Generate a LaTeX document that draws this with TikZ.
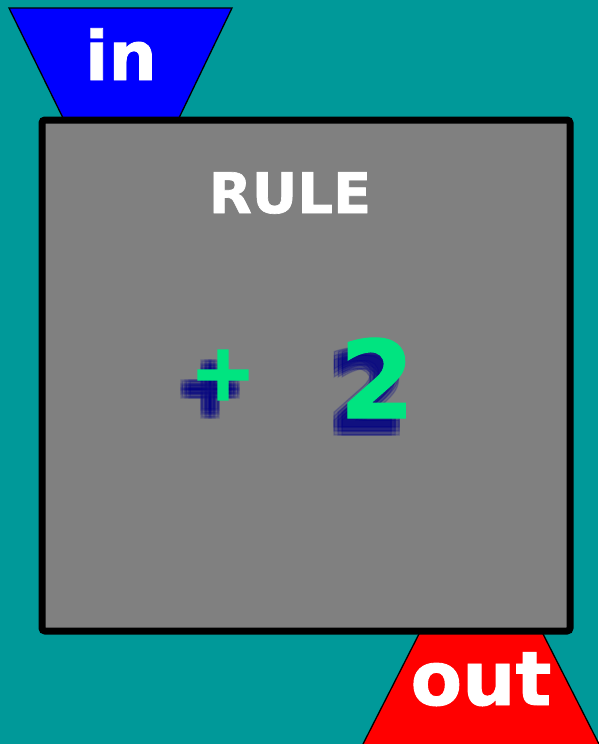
\documentclass[tikz,border=0pt]{standalone}
\usepackage{fontspec}
\setmainfont{DejaVu Sans}
\newfontfamily\heavyfont[FakeBold=3]{DejaVu Sans Bold}
\newfontfamily\semiheavyfont[FakeBold=1.2]{DejaVu Sans Bold}
\usetikzlibrary{calc}
\definecolor{tealbg}{RGB}{0,153,153}
\definecolor{rulegray}{RGB}{128,128,128}
\definecolor{inblue}{RGB}{0,0,255}
\definecolor{outred}{RGB}{255,0,0}
\definecolor{mint}{RGB}{0,228,128}
\definecolor{navyglow}{RGB}{0,0,128}
\tikzset{
    funnel/.style={
        draw=black, line width=1.3pt, line join=miter
    },
    rulebox/.style={
        draw=black, line width=7pt, rounded corners=3pt,
        fill=rulegray
    },
    io_txt/.style={
        text=white, inner sep=0pt, anchor=base
    },
    sym_txt/.style={
        text=mint, inner sep=0pt
    },
    glow_txt/.style={
        text=navyglow, text opacity=0.2, inner sep=0pt
    }
}

\begin{document}
\begin{tikzpicture}[x=1pt, y=-1pt]

% background
\fill[tealbg] (0,0) rectangle (598,744);
\useasboundingbox (0,0) rectangle (598,744);

% in / out funnels
\draw[funnel, fill=inblue] (9,8) -- (232,8) -- (178,120) -- (64,120) -- cycle;
\draw[funnel, fill=outred] (420,632) -- (542,632) -- (600,746) -- (362,746) -- cycle;

% rule box
\draw[rulebox] (42,120) rectangle (570,631);

\node[io_txt, font=\semiheavyfont\fontsize{68}{68}\selectfont] (in) at (121,80) {in};
\node[io_txt, font=\semiheavyfont\fontsize{75}{75}\selectfont] (out) at (481,705) {out};
\node[io_txt, font=\semiheavyfont\fontsize{56}{56}\selectfont] (rule) at (290,213) {RULE};

% glow behind the symbols
\coordinate (pluspos) at (223,375);
\coordinate (twopos) at (377,378);
\foreach \dx in {-4,0,4}
  \foreach \dy in {-4,0,4} {
    \node[glow_txt, font=\heavyfont\fontsize{78}{78}\selectfont] at ($(pluspos)+(\dx-13,\dy+14)$) {+};
    \node[glow_txt, font=\semiheavyfont\fontsize{108}{108}\selectfont] at ($(twopos)+(\dx-10,\dy+13)$) {2};
  }

\node[sym_txt, font=\heavyfont\fontsize{78}{78}\selectfont] (plus) at (pluspos) {+};
\node[sym_txt, font=\semiheavyfont\fontsize{108}{108}\selectfont] (two) at (twopos) {2};

\end{tikzpicture}
\end{document}
